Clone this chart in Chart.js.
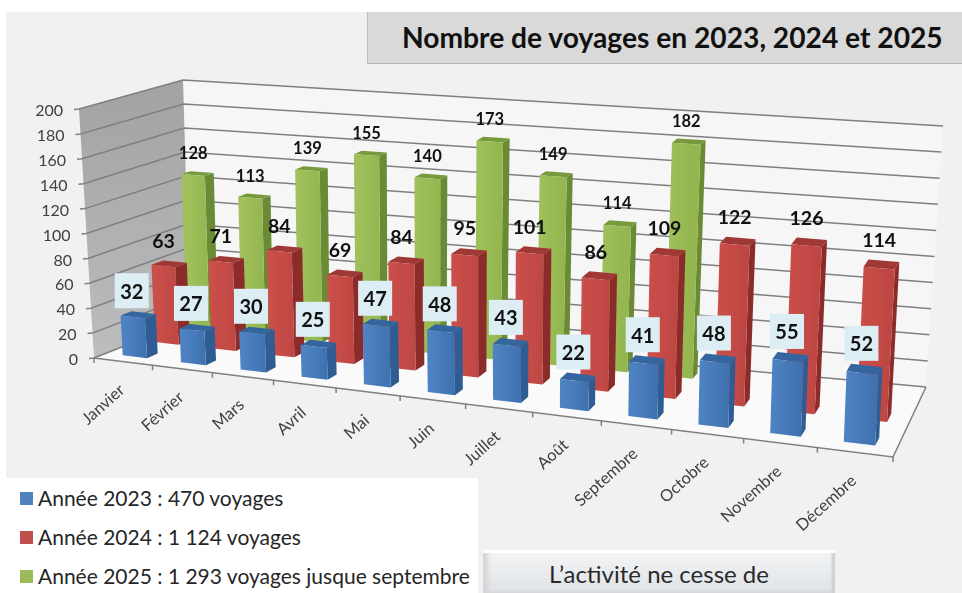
<!DOCTYPE html>
<html lang="fr"><head><meta charset="utf-8">
<style>
html,body{margin:0;padding:0;background:#fff;width:962px;height:593px;overflow:hidden;font-family:Lato,"Open Sans",sans-serif}
#wrap{position:absolute;left:6px;top:12px;width:956px;height:581px;background:#f1f1f1}
canvas{position:absolute;left:0;top:0}
#title{position:absolute;left:367px;top:12px;width:595px;height:52px;background:#d9d9d9;border-bottom:1px solid #b5b5b5;border-left:1px solid #bdbdbd;box-sizing:border-box;font-weight:700;font-size:28.2px;color:#111;line-height:51px;white-space:nowrap;padding-left:34px}
#legend{position:absolute;left:6px;top:478px;width:472px;height:115px;background:#fff}
.li{position:absolute;left:32px;font-size:21px;line-height:24px;color:#262626;white-space:nowrap}
.sw{position:absolute;left:14px;width:13px;height:13px}
#note{position:absolute;left:483px;top:550px;width:352px;height:43px;overflow:hidden;background:linear-gradient(#f4f5f6,#dfe3e7);box-shadow:inset 0 3px 1px #fff,inset 5px 0 4px #d4d4d4,inset -3px 0 3px #c9cdd0;text-align:center;font-size:24px;line-height:41px;color:#2a2a2a;padding-top:3px;box-sizing:border-box}
</style></head><body>
<div id="wrap"></div>
<canvas id="c" width="962" height="593"></canvas>
<div id="title">Nombre de voyages en 2023, 2024 et 2025</div>
<div id="legend"></div>
<div id="note">L’activité ne cesse de</div>
<script src="https://cdn.jsdelivr.net/npm/chart.js@4/dist/chart.umd.min.js"></script>
<script>
const categories=["Janvier","Février","Mars","Avril","Mai","Juin","Juillet","Août","Septembre","Octobre","Novembre","Décembre"];
const values2023=[32,27,30,25,47,48,43,22,41,48,55,52];
const values2024=[63,71,84,69,84,95,101,86,109,122,126,114];
const values2025=[128,113,139,155,140,173,149,114,182,null,null,null];
const legendLabels=["Année 2023 : 470 voyages","Année 2024 : 1 124 voyages","Année 2025 : 1 293 voyages jusque septembre"];
const seriesNames=["2023","2024","2025"];

const box={flb:[94,358],flt:[79,109],frb:[893,457],frt:[905,182],blb:[190,320],blt:[183,80],brb:[926,387],brt:[943,126]};
const lerp=(a,b,t)=>[a[0]+(b[0]-a[0])*t,a[1]+(b[1]-a[1])*t];
function persp(u,d){const w=1.15;return u/(u+w*(1-u));}
function proj(u,d,v){
  const t=persp(u,d);
  const bot=lerp(lerp(box.flb,box.frb,t),lerp(box.blb,box.brb,t),d);
  const top=lerp(lerp(box.flt,box.frt,t),lerp(box.blt,box.brt,t),d);
  return lerp(bot,top,v);
}
const rows=[
 {d:.125,s:.115,front:["#4f84c4","#3f71b0"],side:"#2f5c92",top:"#34659f",label:{size:20,weight:700,dx:-1,dy:0,box:true}},
 {d:.465,s:.12,front:["#cb4f4b","#bf4743"],side:"#8b2c2a",top:"#a03835",label:{size:19.5,weight:700,dx:0,dy:-19}},
 {d:.80,s:.09,front:["#a0c05c","#93b64f"],side:"#6a8a35",top:"#769a3c",label:{size:16.5,weight:700,dx:0,dy:-17}}
];
function poly(ctx,pts,fill){ctx.beginPath();pts.forEach((p,i)=>i?ctx.lineTo(p[0],p[1]):ctx.moveTo(p[0],p[1]));ctx.closePath();ctx.fillStyle=fill;ctx.fill();}

const scene={id:'scene',
 beforeDatasetsDraw(chart){
  const {ctx}=chart,ys=chart.scales.y,xs=chart.scales.x;
  ctx.save();
  poly(ctx,[proj(0,0,0),proj(0,1,0),proj(1,1,0),proj(1,0,0)],"#fafafa");
  poly(ctx,[proj(0,1,0),proj(0,1,1),proj(1,1,1),proj(1,1,0)],"#f6f6f6");
  const g=ctx.createLinearGradient(0,80,0,358);g.addColorStop(0,"#a2a2a2");g.addColorStop(1,"#bdbdbd");
  poly(ctx,[proj(0,0,0),proj(0,0,1),proj(0,1,1),proj(0,1,0)],g);
  ctx.strokeStyle="#7f7f7f";ctx.lineWidth=1.5;ctx.fillStyle="#404040";
  ctx.font="16px Lato";ctx.textAlign="right";ctx.textBaseline="middle";
  ys.ticks.forEach(tk=>{
    const v=tk.value/ys.max,a=proj(0,0,v),b=proj(0,1,v),c=proj(1,1,v);
    ctx.beginPath();ctx.moveTo(a[0]-5,a[1]+.5);ctx.lineTo(a[0],a[1]);ctx.lineTo(b[0],b[1]);ctx.lineTo(c[0],c[1]);ctx.stroke();
    ctx.fillText(String(tk.value),a[0]-16,a[1]+2);
  });
  ctx.beginPath();const p0=proj(0,0,0),p1=proj(1,0,0),p2=proj(1,1,0);
  ctx.moveTo(p0[0],p0[1]);ctx.lineTo(p1[0],p1[1]);ctx.lineTo(p2[0],p2[1]);ctx.stroke();
  const n=categories.length;
  for(let i=0;i<=n;i++){const p=proj(i/n,0,0);ctx.beginPath();ctx.moveTo(p[0],p[1]);ctx.lineTo(p[0],p[1]+5);ctx.stroke();}
  ctx.font="16.4px Lato";ctx.textAlign="right";ctx.textBaseline="middle";
  xs.getLabels().forEach((lab,i)=>{
    const p=proj((i+.5)/n,0,0);
    ctx.save();ctx.translate(p[0]-1,p[1]+26);ctx.rotate(-42*Math.PI/180);ctx.fillText(lab,0,0);ctx.restore();
  });
  ctx.restore();
 },
 beforeDatasetDraw(){return false;},
 afterDatasetsDraw(chart){
  const {ctx,chartArea:ca}=chart;
  const fx=x=>(x-ca.left)/(ca.right-ca.left), fy=y=>(ca.bottom-y)/(ca.bottom-ca.top);
  const labels=[];
  ctx.save();
  [2,1,0].forEach(k=>{
    const r=rows[k],meta=chart.getDatasetMeta(k),data=chart.data.datasets[k].data;
    meta.data.forEach((el,i)=>{
      if(data[i]==null)return;
      const u0=fx(el.x-el.width/2),u1=fx(el.x+el.width/2),v0=fy(el.base),v1=fy(el.y),d0=r.d,d1=r.d+r.s;
      const a=proj(u0,d0,v0),b=proj(u1,d0,v0),c=proj(u1,d0,v1),e=proj(u0,d0,v1),
            f=proj(u1,d1,v0),h=proj(u1,d1,v1),j=proj(u0,d1,v1);
      poly(ctx,[b,f,h,c],r.side);
      poly(ctx,[e,c,h,j],r.top);
      const g=ctx.createLinearGradient(a[0],0,b[0],0);g.addColorStop(0,r.front[0]);g.addColorStop(1,r.front[1]);
      poly(ctx,[a,b,c,e],g);
      labels.push({k,val:data[i],x:(e[0]+c[0])/2,y:Math.min(j[1],h[1])});
    });
  });
  labels.forEach(l=>{
    const s=rows[l.k].label,x=l.x+s.dx;
    ctx.font=s.weight+" "+s.size+"px Lato";ctx.textAlign="center";ctx.textBaseline="middle";
    if(s.box){ctx.fillStyle="#dcedf4";ctx.fillRect(x-17,l.y-38,34,35);ctx.fillStyle="#111";ctx.fillText(l.val,x,l.y-19);}
    else{ctx.fillStyle="#111";ctx.fillText(l.val,x,l.y+s.dy);}
  });
  ctx.restore();
 }
};

const seriesData=[values2023,values2024,values2025];
new Chart(document.getElementById('c'),{
 type:'bar',
 data:{labels:categories,datasets:seriesData.map((data,i)=>({label:seriesNames[i],data,backgroundColor:rows[i].front[0]}))},
 options:{responsive:false,animation:false,
  layout:{padding:0},
  datasets:{bar:{grouped:false,categoryPercentage:1,barPercentage:.42}},
  plugins:{legend:{display:false},tooltip:{enabled:false}},
  scales:{x:{display:false},y:{display:false,min:0,max:200,ticks:{stepSize:20}}}
 },
 plugins:[scene]
});
const swatches=["#4f81bd","#c0504d","#9bbb59"],ys=[20,59,98],lg=document.getElementById('legend');
legendLabels.forEach((t,i)=>{
 const s=document.createElement('div');s.className='sw';s.style.top=(ys[i]-6)+'px';s.style.background=swatches[i];lg.appendChild(s);
 const d=document.createElement('div');d.className='li';d.style.top=(ys[i]-12)+'px';d.textContent=t;lg.appendChild(d);
});
</script></body></html>
